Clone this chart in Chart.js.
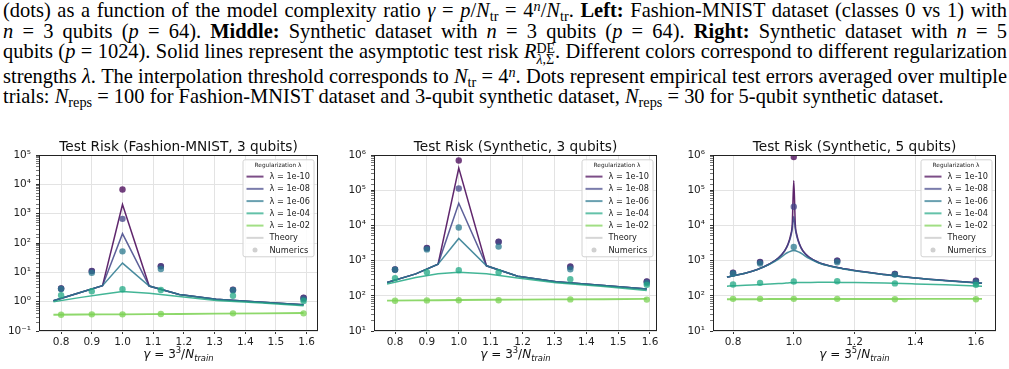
<!DOCTYPE html>
<html><head><meta charset="utf-8">
<script src="https://cdn.jsdelivr.net/npm/chart.js@4.4.0/dist/chart.umd.min.js"></script>
<style>
html,body{margin:0;padding:0;background:#fff;width:1009px;height:369px;overflow:hidden;}
#cap{position:absolute;left:3px;top:0px;width:1004px;font-family:'Liberation Serif','DejaVu Serif',serif;font-size:17px;line-height:20.7px;color:#000;white-space:nowrap;}
.ln{text-align:justify;text-align-last:justify;}
.ln.last{text-align:left;text-align-last:left;}
sub,sup{font-size:0.7em;line-height:0;}
sub{vertical-align:-0.25em;}
sup{vertical-align:0.45em;}
.ss{display:inline-block;vertical-align:-0.38em;line-height:0.78em;font-size:0.68em;text-align:left;text-align-last:left;}
.ss span{display:block;}
canvas{position:absolute;top:130px;}
#c1{left:0px;width:336px;height:239px;}
#c2{left:336px;width:336px;height:239px;}
#c3{left:672px;width:337px;height:239px;}
</style>
</head><body>
<div id="cap">
<div class="ln"><span class="in">(dots) as a function of the model complexity ratio <i>γ</i> = <i>p</i>/<i>N</i><sub>tr</sub> = 4<sup><i>n</i></sup>/<i>N</i><sub>tr</sub>. <b>Left:</b> Fashion-MNIST dataset (classes 0 vs 1) with</span></div>
<div class="ln"><span class="in"><i>n</i> = 3 qubits (<i>p</i> = 64). <b>Middle:</b> Synthetic dataset with <i>n</i> = 3 qubits (<i>p</i> = 64). <b>Right:</b> Synthetic dataset with <i>n</i> = 5</span></div>
<div class="ln"><span class="in">qubits (<i>p</i> = 1024). Solid lines represent the asymptotic test risk <i>R</i><span class="ss"><span>DE</span><span><i>λ</i>,Σ</span></span>. Different colors correspond to different regularization</span></div>
<div class="ln"><span class="in">strengths <i>λ</i>. The interpolation threshold corresponds to <i>N</i><sub>tr</sub> = 4<sup><i>n</i></sup>. Dots represent empirical test errors averaged over multiple</span></div>
<div class="ln last"><span class="in" id="lastin">trials: <i>N</i><sub>reps</sub> = 100 for Fashion-MNIST dataset and 3-qubit synthetic dataset, <i>N</i><sub>reps</sub> = 30 for 5-qubit synthetic dataset.</span></div>
</div>
<canvas id="c1" width="336" height="239"></canvas>
<canvas id="c2" width="336" height="239"></canvas>
<canvas id="c3" width="337" height="239"></canvas>
<script>
// ---------------- DATA ----------------
const lambdaLabels = ['λ = 1e-10', 'λ = 1e-08', 'λ = 1e-06', 'λ = 1e-04', 'λ = 1e-02'];
const lambdaColors = ['#440154', '#414487', '#2a788e', '#22a884', '#7ad151'];

// Left: Fashion-MNIST, 3 qubits
const fmGammaNum = [0.8, 0.9, 1.0, 1.125, 1.36, 1.59];
const fmNum_1e10 = [2.8, 11.2, 6700, 16.3, 2.55, 1.37];
const fmNum_1e08 = [2.8, 11.0, 665, 16.0, 2.5, 1.35];
const fmNum_1e06 = [2.7, 9.6, 52, 13.0, 2.45, 1.2];
const fmNum_1e04 = [1.65, 2.26, 2.65, 2.5, 1.6, 1.05];
const fmNum_1e02 = [0.36, 0.37, 0.37, 0.38, 0.4, 0.4];
const fmGammaTh = [0.775, 0.865, 0.935, 1.0, 1.087, 1.185, 1.305, 1.455, 1.59];
const fmTh_1e10 = [1.07, 2.1, 3.5, 2050, 3.4, 1.75, 1.2, 0.95, 0.78];
const fmTh_1e08 = [1.07, 2.1, 3.5, 209, 3.4, 1.75, 1.2, 0.95, 0.78];
const fmTh_1e06 = [1.07, 2.1, 3.5, 20.6, 3.4, 1.75, 1.2, 0.95, 0.78];
const fmTh_1e04 = [1.0, 1.4, 1.8, 2.2, 1.95, 1.5, 1.1, 0.9, 0.72];
const fmTh_1e02 = [0.36, 0.365, 0.37, 0.37, 0.375, 0.38, 0.39, 0.4, 0.41];

// Middle: Synthetic, 3 qubits
const s3GammaNum = [0.8, 0.9, 1.0, 1.125, 1.35, 1.59];
const s3Num_1e10 = [560, 2300, 700000, 3470, 680, 254];
const s3Num_1e08 = [560, 2250, 112000, 3400, 660, 250];
const s3Num_1e06 = [550, 2080, 8700, 2500, 570, 230];
const s3Num_1e04 = [317, 470, 535, 470, 295, 205];
const s3Num_1e02 = [72, 74, 75, 75, 79, 78];
const s3GammaTh = [0.775, 0.865, 0.935, 1.0, 1.087, 1.185, 1.305, 1.455, 1.59];
const s3Th_1e10 = [240, 420, 795, 427000, 710, 360, 250, 195, 155];
const s3Th_1e08 = [240, 420, 795, 42500, 710, 360, 250, 195, 155];
const s3Th_1e06 = [240, 420, 795, 4270, 710, 360, 250, 195, 155];
const s3Th_1e04 = [215, 330, 420, 470, 420, 320, 235, 185, 141];
const s3Th_1e02 = [73, 74, 75, 76, 77, 78, 79, 80, 82];

// Right: Synthetic, 5 qubits
const s5GammaNum = [0.8, 0.889, 1.0, 1.143, 1.333, 1.6];
const s5Num_1e10 = [450, 920, 880000, 1000, 420, 270];
const s5Num_1e08 = [445, 900, 34000, 990, 415, 265];
const s5Num_1e06 = [430, 830, 2450, 900, 400, 240];
const s5Num_1e04 = [210, 233, 255, 260, 225, 205];
const s5Num_1e02 = [82, 82, 82, 82, 80, 80];
const s5GammaTh = [0.78, 0.8, 0.84, 0.88, 0.92, 0.95, 0.97, 0.98, 0.99, 0.995, 1.0, 1.005, 1.01, 1.02, 1.03, 1.05, 1.08, 1.12, 1.16, 1.2, 1.3, 1.4, 1.5, 1.62];
const s5Th_1e10 = [340, 370, 440, 560, 800, 1200, 1900, 2800, 5500, 11000, 185000, 11000, 5500, 2800, 1900, 1250, 900, 700, 600, 520, 400, 320, 270, 228];
const s5Th_1e08 = [340, 370, 440, 560, 800, 1200, 1900, 2700, 4800, 8000, 18000, 8000, 4800, 2700, 1850, 1250, 900, 700, 600, 520, 400, 320, 270, 228];
const s5Th_1e06 = [340, 370, 440, 555, 780, 1100, 1500, 1700, 1850, 1900, 1940, 1900, 1850, 1700, 1500, 1150, 870, 690, 590, 515, 398, 318, 268, 227];
const s5Th_1e04 = [188, 192, 200, 207, 215, 222, 228, 232, 234, 235, 236, 236, 237, 238, 239, 240, 241, 241, 240, 238, 230, 218, 205, 188];
const s5Th_1e02 = [80, 80, 80, 80, 81, 81, 81, 81, 81, 81, 81, 81, 81, 81, 81, 81, 81, 81, 81, 81, 81, 82, 82, 82];

const yTickPowers = ['10⁻¹', '10⁰', '10¹', '10²', '10³', '10⁴', '10⁵', '10⁶'];

// ---------------- CAPTION FIT ----------------
(function fitCaption(){
  const cap = document.getElementById('cap');
  const last = document.getElementById('lastin');
  const w = last.getBoundingClientRect().width;
  let fs = 17 * 959 / w;
  cap.style.fontSize = fs + 'px';
  let maxW = 0;
  document.querySelectorAll('#cap .in').forEach(s => { maxW = Math.max(maxW, s.getBoundingClientRect().width); });
  if (maxW > 1003) { fs = fs * 1003 / maxW; cap.style.fontSize = fs + 'px'; }
  cap.style.whiteSpace = 'normal';
})();

// ---------------- HELPERS ----------------
const FONT = '"DejaVu Sans", sans-serif';
function rgba(hex, a){const n=parseInt(hex.slice(1),16);return `rgba(${n>>16},${(n>>8)&255},${n&255},${a})`;}
function pts(xs, ys){return xs.map((x,i)=>({x:x, y:ys[i]}));}
function isPow10(v){const l=Math.log10(v);return Math.abs(l-Math.round(l))<1e-6;}
function powLabel(v){const l=Math.round(Math.log10(v));return yTickPowers[l+1];}

function decorPlugin(spec){
  return {
    id:'decor'+spec.id,
    afterDatasetsDraw(chart){
      const ctx=chart.ctx, a=chart.chartArea;
      ctx.save();
      ctx.strokeStyle='#222'; ctx.lineWidth=1;
      ctx.strokeRect(a.left+0.5, a.top+0.5, a.right-a.left-1, a.bottom-a.top-1);
      ctx.restore();
    },
    afterDraw(chart){
      const ctx=chart.ctx, a=chart.chartArea;
      ctx.save();
      // title
      ctx.fillStyle='#111'; ctx.font='13.7px '+FONT; ctx.textAlign='center'; ctx.textBaseline='alphabetic';
      ctx.fillText(spec.title, (a.left+a.right)/2, a.top-4.3);
      // x label
      const fs=12, cx=(a.left+a.right)/2, by=a.bottom+27;
      const pieces=[
        {t:'γ', f:'italic '+fs+'px '+FONT, dy:0},
        {t:' = 3', f:fs+'px '+FONT, dy:0},
        {t:spec.expo, f:(fs*0.7)+'px '+FONT, dy:-fs*0.42},
        {t:'/', f:fs+'px '+FONT, dy:0},
        {t:'N', f:'italic '+fs+'px '+FONT, dy:0},
        {t:'train', f:'italic '+(fs*0.7)+'px '+FONT, dy:fs*0.22}
      ];
      let tot=0; pieces.forEach(p=>{ctx.font=p.f; p.w=ctx.measureText(p.t).width; tot+=p.w;});
      let x=cx-tot/2; ctx.textAlign='left'; ctx.fillStyle='#111';
      pieces.forEach(p=>{ctx.font=p.f; ctx.fillText(p.t, x, by+p.dy); x+=p.w;});
      // legend
      const w=71, h=97, x0=a.right-4.5-w, y0=a.top+4.3;
      ctx.beginPath();
      if (ctx.roundRect) ctx.roundRect(x0+0.5,y0+0.5,w,h,2); else ctx.rect(x0+0.5,y0+0.5,w,h);
      ctx.fillStyle='rgba(255,255,255,0.85)'; ctx.fill();
      ctx.strokeStyle='#d2d2d2'; ctx.lineWidth=1; ctx.stroke();
      ctx.fillStyle='#222'; ctx.font='5.8px '+FONT; ctx.textAlign='center'; ctx.textBaseline='middle';
      ctx.fillText('Regularization λ', x0+w/2, y0+6.6);
      const labels=lambdaLabels.concat(['Theory','Numerics']);
      labels.forEach((lab,i)=>{
        const yy=y0+17.3+i*12.25;
        if(i<5){ctx.strokeStyle=rgba(lambdaColors[i],0.7); ctx.lineWidth=2; ctx.beginPath(); ctx.moveTo(x0+4,yy); ctx.lineTo(x0+21,yy); ctx.stroke();}
        else if(i===5){ctx.strokeStyle='#d6d6d6'; ctx.lineWidth=2; ctx.beginPath(); ctx.moveTo(x0+4,yy); ctx.lineTo(x0+21,yy); ctx.stroke();}
        else {ctx.fillStyle='#d0d0d0'; ctx.beginPath(); ctx.arc(x0+12.5,yy,2.5,0,Math.PI*2); ctx.fill();}
        ctx.fillStyle='#222'; ctx.font='8.2px '+FONT; ctx.textAlign='left'; ctx.textBaseline='middle';
        ctx.fillText(lab, x0+27, yy+0.3);
      });
      ctx.restore();
    }
  };
}

function makeChart(spec){
  const datasets=[];
  for(let i=0;i<5;i++){
    datasets.push({
      label:lambdaLabels[i]+' theory',
      data:pts(spec.gTh, spec.th[i]),
      showLine:true, borderColor:rgba(lambdaColors[i],0.85), borderWidth:(i===4?1.9:1.5),
      pointRadius:0, pointHoverRadius:0, fill:false,
      tension:0, cubicInterpolationMode:spec.smooth?'monotone':'default',
      order:100-datasets.length
    });
    datasets.push({
      label:lambdaLabels[i]+' numerics',
      data:pts(spec.gNum, spec.num[i]),
      showLine:false, pointRadius:3.2, pointBorderWidth:0, borderWidth:0,
      backgroundColor:rgba(lambdaColors[i],0.75), pointBackgroundColor:rgba(lambdaColors[i],0.75),
      order:100-datasets.length
    });
  }
  return new Chart(document.getElementById(spec.id), {
    type:'scatter',
    data:{datasets:datasets},
    options:{
      responsive:false, animation:false, devicePixelRatio:1,
      layout:{padding:{left:0, right:spec.padR, top:25, bottom:0}},
      plugins:{legend:{display:false}, title:{display:false}, tooltip:{enabled:false}},
      scales:{
        x:{type:'linear', min:spec.xMin, max:spec.xMax,
          afterFit(s){s.height=38;},
          border:{display:false},
          grid:{color:'#e3e3e3', lineWidth:1, tickColor:'#333', tickLength:3, drawTicks:true},
          ticks:{stepSize:spec.xStep, includeBounds:false, maxTicksLimit:30, autoSkip:false, maxRotation:0,
            padding:2, color:'#222', font:{family:FONT, size:10.5},
            callback:(v)=>Number(v).toFixed(1)}
        },
        y:{type:'logarithmic', min:spec.yMin, max:spec.yMax,
          afterFit(s){s.width=spec.yW;},
          border:{display:false},
          grid:{color:(c)=> (c.tick && isPow10(c.tick.value)) ? '#e3e3e3' : 'rgba(0,0,0,0)',
                tickColor:(c)=> (c.tick && isPow10(c.tick.value)) ? '#333' : '#777',
                lineWidth:1, tickLength:3, drawTicks:true},
          ticks:{autoSkip:false, padding:5, color:'#222', font:{family:FONT, size:10.5},
            callback:(v)=> isPow10(v) ? powLabel(v) : ''}
        }
      }
    },
    plugins:[decorPlugin(spec)]
  });
}

makeChart({id:'c1', title:'Test Risk (Fashion-MNIST, 3 qubits)', expo:'3',
  gNum:fmGammaNum, num:[fmNum_1e10,fmNum_1e08,fmNum_1e06,fmNum_1e04,fmNum_1e02],
  gTh:fmGammaTh, th:[fmTh_1e10,fmTh_1e08,fmTh_1e06,fmTh_1e04,fmTh_1e02],
  xMin:0.728, xMax:1.637, xStep:0.1, yMin:0.1, yMax:1e5, yW:39, padR:18, smooth:false});
makeChart({id:'c2', title:'Test Risk (Synthetic, 3 qubits)', expo:'3',
  gNum:s3GammaNum, num:[s3Num_1e10,s3Num_1e08,s3Num_1e06,s3Num_1e04,s3Num_1e02],
  gTh:s3GammaTh, th:[s3Th_1e10,s3Th_1e08,s3Th_1e06,s3Th_1e04,s3Th_1e02],
  xMin:0.734, xMax:1.622, xStep:0.1, yMin:10, yMax:1e6, yW:38, padR:15, smooth:false});
makeChart({id:'c3', title:'Test Risk (Synthetic, 5 qubits)', expo:'5',
  gNum:s5GammaNum, num:[s5Num_1e10,s5Num_1e08,s5Num_1e06,s5Num_1e04,s5Num_1e02],
  gTh:s5GammaTh, th:[s5Th_1e10,s5Th_1e08,s5Th_1e06,s5Th_1e04,s5Th_1e02],
  xMin:0.734, xMax:1.666, xStep:0.2, yMin:10, yMax:1e6, yW:41, padR:13, smooth:true});
</script>
</body></html>
